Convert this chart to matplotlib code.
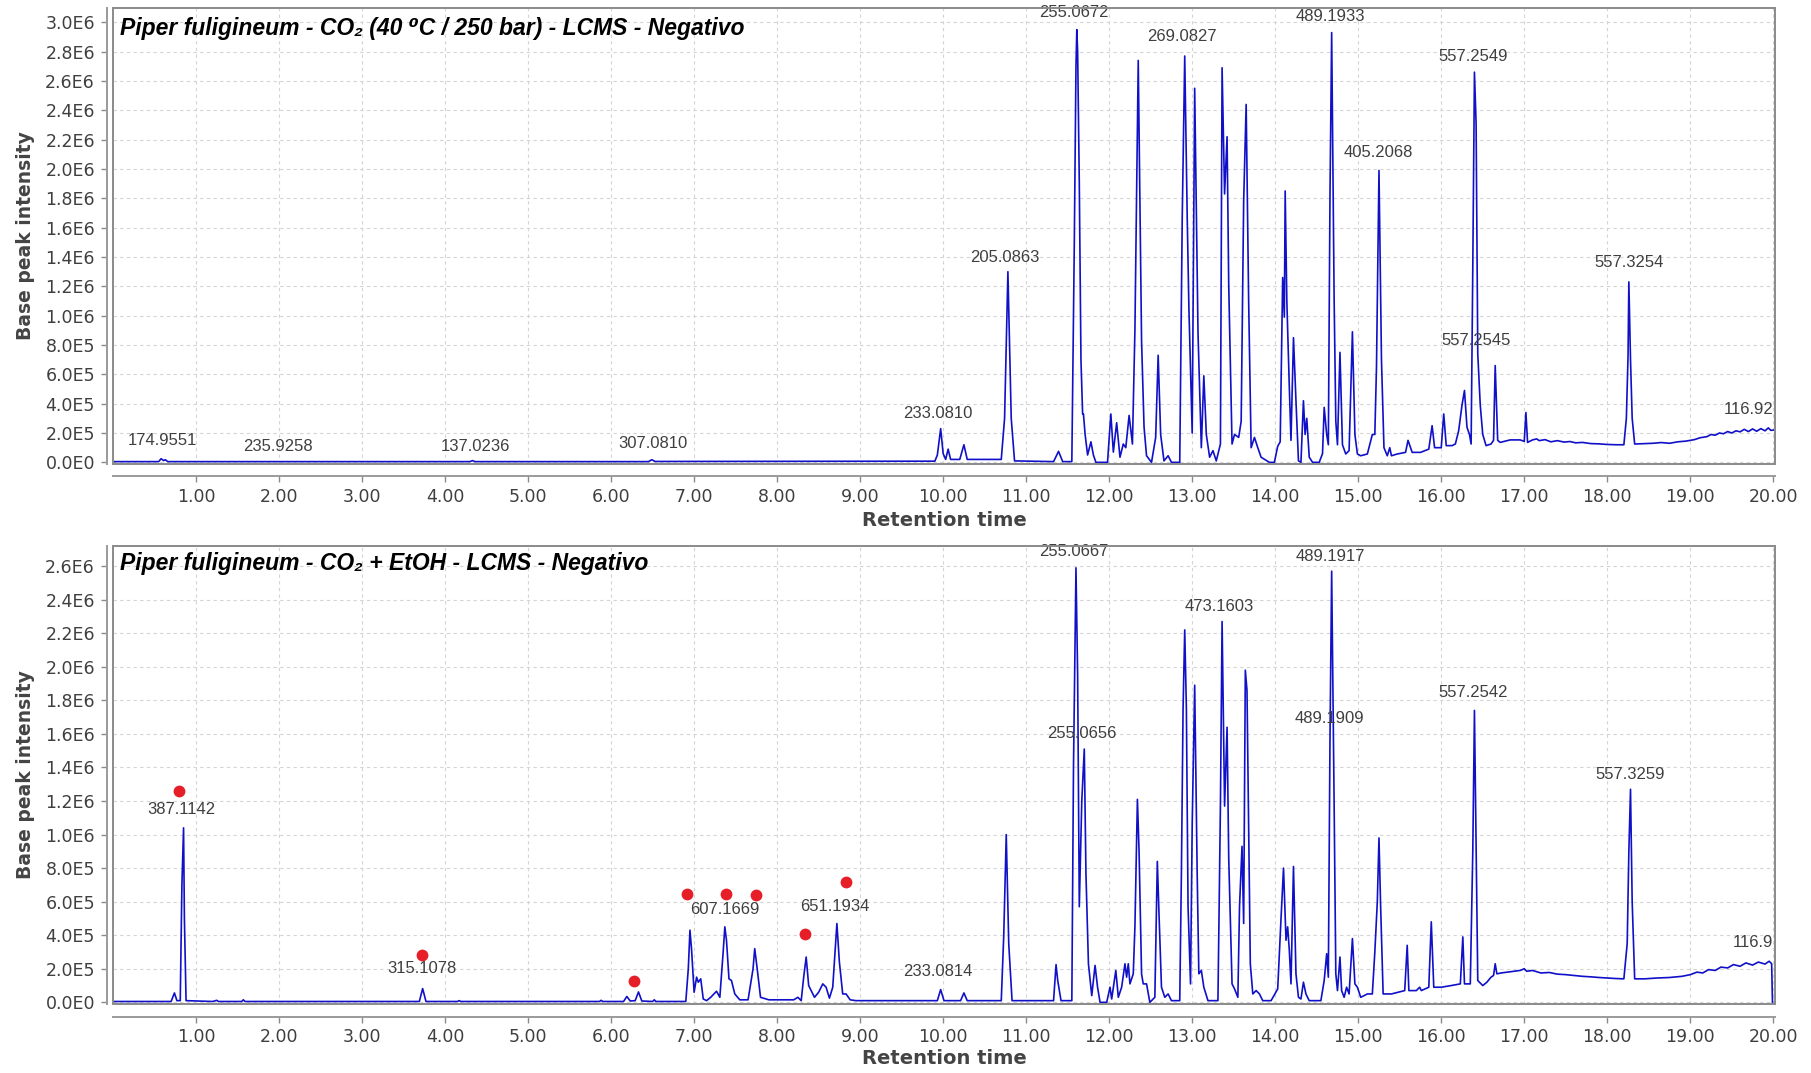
import numpy as np
import matplotlib
matplotlib.use('Agg')
import matplotlib.pyplot as plt
from matplotlib.patches import Rectangle
from matplotlib.ticker import MultipleLocator, FuncFormatter

plt.rcParams['font.family'] = ['DejaVu Sans']

# retention time (min), base peak intensity (x1E6)
trace_co2 = [
    (0.00, 0.005), (0.55, 0.005), (0.58, 0.025), (0.61, 0.012), (0.63, 0.018), (0.66, 0.005),
    (4.30, 0.005), (4.33, 0.012), (4.36, 0.005), (6.45, 0.005), (6.49, 0.018), (6.53, 0.006),
    (9.90, 0.008), (9.93, 0.05), (9.97, 0.23), (10.00, 0.06), (10.03, 0.02), (10.06, 0.09),
    (10.09, 0.02), (10.20, 0.02), (10.25, 0.12), (10.29, 0.02), (10.70, 0.02), (10.74, 0.30),
    (10.78, 1.30), (10.82, 0.30), (10.86, 0.01), (11.33, 0.005), (11.39, 0.075), (11.44, 0.005),
    (11.55, 0.005), (11.58, 1.50), (11.60, 2.70), (11.61, 2.95), (11.62, 2.80), (11.64, 1.90),
    (11.66, 0.70), (11.68, 0.33), (11.69, 0.33), (11.71, 0.19), (11.74, 0.05), (11.78, 0.14),
    (11.81, 0.05), (11.84, 0.0), (11.98, 0.0), (12.02, 0.33), (12.05, 0.07), (12.09, 0.27),
    (12.13, 0.035), (12.17, 0.125), (12.20, 0.10), (12.24, 0.32), (12.28, 0.125), (12.31, 0.90),
    (12.35, 2.74), (12.39, 0.83), (12.42, 0.24), (12.45, 0.045), (12.51, 0.0), (12.56, 0.17),
    (12.59, 0.73), (12.62, 0.19), (12.66, 0.01), (12.71, 0.045), (12.75, 0.0), (12.85, 0.0),
    (12.88, 1.67), (12.91, 2.77), (12.94, 1.67), (12.96, 1.06), (13.00, 0.20), (13.03, 2.55),
    (13.07, 0.88), (13.11, 0.10), (13.14, 0.59), (13.17, 0.19), (13.21, 0.035), (13.25, 0.08),
    (13.29, 0.01), (13.34, 0.125), (13.36, 2.69), (13.39, 1.83), (13.42, 2.22), (13.44, 1.21),
    (13.48, 0.125), (13.51, 0.19), (13.56, 0.17), (13.59, 0.28), (13.62, 1.78), (13.65, 2.44),
    (13.68, 1.10), (13.71, 0.10), (13.75, 0.17), (13.79, 0.10), (13.83, 0.035), (13.93, 0.0),
    (13.99, 0.0), (14.03, 0.11), (14.06, 0.14), (14.09, 1.26), (14.11, 0.99), (14.12, 1.85),
    (14.14, 1.10), (14.17, 0.51), (14.19, 0.15), (14.22, 0.85), (14.25, 0.42), (14.28, 0.01),
    (14.31, 0.0), (14.34, 0.42), (14.36, 0.19), (14.38, 0.30), (14.41, 0.035), (14.45, 0.0),
    (14.53, 0.0), (14.57, 0.06), (14.59, 0.375), (14.62, 0.19), (14.64, 0.12), (14.66, 1.83),
    (14.68, 2.93), (14.71, 1.10), (14.73, 0.28), (14.75, 0.12), (14.78, 0.75), (14.81, 0.12),
    (14.85, 0.057), (14.89, 0.08), (14.93, 0.89), (14.96, 0.19), (14.99, 0.057), (15.03, 0.045),
    (15.11, 0.057), (15.17, 0.19), (15.20, 0.19), (15.22, 0.65), (15.25, 1.99), (15.28, 0.70),
    (15.31, 0.10), (15.35, 0.045), (15.38, 0.10), (15.40, 0.045), (15.47, 0.057), (15.57, 0.068),
    (15.60, 0.15), (15.63, 0.10), (15.65, 0.068), (15.75, 0.068), (15.85, 0.09), (15.89, 0.25),
    (15.92, 0.10), (16.00, 0.10), (16.03, 0.33), (16.06, 0.114), (16.13, 0.114), (16.17, 0.125),
    (16.21, 0.216), (16.25, 0.39), (16.28, 0.49), (16.31, 0.24), (16.34, 0.19), (16.36, 0.125),
    (16.38, 1.33), (16.40, 2.66), (16.42, 2.31), (16.44, 0.74), (16.47, 0.39), (16.50, 0.19),
    (16.54, 0.114), (16.60, 0.125), (16.63, 0.15), (16.65, 0.66), (16.68, 0.15), (16.71, 0.136),
    (16.83, 0.153), (16.95, 0.153), (17.00, 0.143), (17.02, 0.34), (17.04, 0.136), (17.10, 0.153),
    (17.15, 0.16), (17.18, 0.148), (17.25, 0.155), (17.32, 0.14), (17.40, 0.148), (17.48, 0.138),
    (17.55, 0.142), (17.62, 0.133), (17.70, 0.136), (17.80, 0.128), (17.90, 0.126), (18.00, 0.122),
    (18.10, 0.12), (18.20, 0.12), (18.23, 0.30), (18.25, 0.72), (18.26, 1.23), (18.28, 0.70),
    (18.30, 0.30), (18.33, 0.125), (18.45, 0.128), (18.55, 0.13), (18.65, 0.135), (18.75, 0.13),
    (18.85, 0.14), (18.95, 0.145), (19.05, 0.155), (19.12, 0.168), (19.20, 0.175), (19.25, 0.19),
    (19.30, 0.185), (19.35, 0.20), (19.40, 0.195), (19.45, 0.21), (19.50, 0.20), (19.55, 0.215),
    (19.60, 0.208), (19.65, 0.225), (19.70, 0.21), (19.75, 0.228), (19.80, 0.212), (19.85, 0.23),
    (19.90, 0.215), (19.94, 0.235), (19.97, 0.218), (20.00, 0.22),
]

trace_etoh = [
    (0.00, 0.005), (0.70, 0.005), (0.74, 0.056), (0.77, 0.01), (0.81, 0.01), (0.83, 0.70),
    (0.85, 1.04), (0.86, 0.50), (0.88, 0.01), (1.20, 0.005), (1.25, 0.012), (1.27, 0.005),
    (1.55, 0.005), (1.57, 0.015), (1.59, 0.005), (3.69, 0.005), (3.73, 0.082), (3.77, 0.005),
    (4.15, 0.005), (4.17, 0.01), (4.19, 0.005), (5.86, 0.005), (5.88, 0.012), (5.90, 0.005),
    (6.15, 0.005), (6.19, 0.035), (6.23, 0.008), (6.29, 0.01), (6.33, 0.062), (6.37, 0.008),
    (6.50, 0.005), (6.52, 0.015), (6.54, 0.005), (6.90, 0.005), (6.93, 0.20), (6.95, 0.43),
    (6.97, 0.31), (7.00, 0.06), (7.03, 0.15), (7.05, 0.12), (7.08, 0.14), (7.11, 0.02),
    (7.15, 0.01), (7.20, 0.03), (7.27, 0.066), (7.31, 0.03), (7.35, 0.30), (7.37, 0.45),
    (7.39, 0.37), (7.42, 0.14), (7.45, 0.13), (7.49, 0.05), (7.55, 0.015), (7.65, 0.015),
    (7.71, 0.20), (7.73, 0.32), (7.76, 0.20), (7.80, 0.03), (7.90, 0.015), (8.20, 0.015),
    (8.25, 0.03), (8.29, 0.01), (8.32, 0.15), (8.35, 0.27), (8.38, 0.10), (8.41, 0.07),
    (8.45, 0.03), (8.50, 0.06), (8.55, 0.11), (8.59, 0.09), (8.63, 0.025), (8.67, 0.09),
    (8.70, 0.32), (8.72, 0.47), (8.75, 0.24), (8.79, 0.05), (8.83, 0.05), (8.88, 0.015),
    (8.95, 0.01), (9.93, 0.01), (9.97, 0.076), (10.01, 0.01), (10.21, 0.01), (10.25, 0.056),
    (10.29, 0.01), (10.70, 0.01), (10.73, 0.40), (10.76, 1.00), (10.79, 0.35), (10.83, 0.01),
    (11.33, 0.01), (11.36, 0.225), (11.38, 0.13), (11.42, 0.01), (11.55, 0.01), (11.57, 1.40),
    (11.60, 2.59), (11.62, 1.95), (11.64, 0.57), (11.67, 1.20), (11.70, 1.51), (11.72, 0.77),
    (11.75, 0.23), (11.79, 0.04), (11.83, 0.22), (11.86, 0.09), (11.89, 0.0), (11.97, 0.0),
    (12.01, 0.09), (12.03, 0.02), (12.08, 0.19), (12.11, 0.03), (12.15, 0.09), (12.19, 0.23),
    (12.21, 0.15), (12.23, 0.23), (12.25, 0.11), (12.29, 0.17), (12.31, 0.45), (12.34, 1.21),
    (12.36, 0.90), (12.39, 0.17), (12.41, 0.11), (12.45, 0.11), (12.49, 0.0), (12.55, 0.03),
    (12.58, 0.84), (12.60, 0.53), (12.63, 0.09), (12.67, 0.03), (12.71, 0.05), (12.75, 0.01),
    (12.85, 0.01), (12.87, 0.77), (12.89, 1.75), (12.91, 2.22), (12.93, 1.75), (12.95, 0.57),
    (12.98, 0.11), (13.00, 1.06), (13.03, 1.89), (13.06, 0.77), (13.08, 0.17), (13.11, 0.19),
    (13.14, 0.09), (13.19, 0.01), (13.31, 0.01), (13.34, 1.17), (13.36, 2.27), (13.39, 1.17),
    (13.42, 1.64), (13.44, 0.86), (13.48, 0.11), (13.51, 0.08), (13.55, 0.03), (13.57, 0.57),
    (13.60, 0.93), (13.62, 0.47), (13.64, 1.98), (13.66, 1.86), (13.68, 1.06), (13.70, 0.23),
    (13.73, 0.05), (13.77, 0.07), (13.81, 0.05), (13.85, 0.01), (13.95, 0.01), (14.03, 0.08),
    (14.07, 0.50), (14.10, 0.80), (14.13, 0.37), (14.15, 0.45), (14.17, 0.31), (14.19, 0.11),
    (14.22, 0.81), (14.25, 0.17), (14.28, 0.03), (14.31, 0.02), (14.34, 0.12), (14.37, 0.05),
    (14.41, 0.01), (14.55, 0.01), (14.59, 0.13), (14.62, 0.29), (14.64, 0.15), (14.66, 1.58),
    (14.68, 2.57), (14.71, 1.17), (14.73, 0.17), (14.75, 0.07), (14.78, 0.27), (14.80, 0.07),
    (14.83, 0.03), (14.86, 0.09), (14.89, 0.05), (14.93, 0.38), (14.96, 0.11), (14.99, 0.09),
    (15.03, 0.03), (15.11, 0.05), (15.17, 0.05), (15.20, 0.30), (15.23, 0.60), (15.25, 0.98),
    (15.27, 0.57), (15.30, 0.05), (15.40, 0.05), (15.56, 0.07), (15.59, 0.34), (15.61, 0.07),
    (15.70, 0.07), (15.74, 0.09), (15.76, 0.07), (15.85, 0.09), (15.88, 0.48), (15.91, 0.09),
    (16.00, 0.09), (16.12, 0.10), (16.23, 0.11), (16.26, 0.39), (16.28, 0.11), (16.35, 0.11),
    (16.38, 0.90), (16.40, 1.74), (16.42, 0.96), (16.44, 0.13), (16.50, 0.10), (16.55, 0.12),
    (16.60, 0.15), (16.63, 0.16), (16.65, 0.23), (16.67, 0.17), (16.72, 0.175), (16.80, 0.18),
    (16.88, 0.185), (16.95, 0.19), (17.00, 0.20), (17.03, 0.185), (17.10, 0.19), (17.20, 0.175),
    (17.30, 0.178), (17.40, 0.168), (17.50, 0.165), (17.60, 0.16), (17.70, 0.155), (17.80, 0.152),
    (17.90, 0.148), (18.00, 0.145), (18.10, 0.142), (18.20, 0.14), (18.24, 0.35), (18.26, 0.90),
    (18.28, 1.27), (18.30, 0.60), (18.33, 0.14), (18.45, 0.14), (18.60, 0.145), (18.75, 0.148),
    (18.90, 0.155), (19.00, 0.165), (19.08, 0.18), (19.15, 0.175), (19.22, 0.195), (19.30, 0.19),
    (19.37, 0.21), (19.45, 0.205), (19.52, 0.225), (19.60, 0.215), (19.67, 0.235), (19.75, 0.222),
    (19.82, 0.24), (19.90, 0.228), (19.95, 0.245), (19.98, 0.23), (19.99, 0.0),
]

# peak labels (m/z) and where they sit
mz_co2 = ['174.9551', '235.9258', '137.0236', '307.0810', '233.0810', '205.0863', '255.0672',
          '269.0827', '489.1933', '557.2549', '405.2068', '557.2545', '557.3254']
mz_co2_rt = [0.60, 1.99, 4.36, 6.50, 9.94, 10.74, 11.57, 12.88, 14.66, 16.39, 15.24, 16.42, 18.26]
mz_co2_int = [0.149, 0.11, 0.11, 0.126, 0.33, 1.40, 3.07, 2.90, 3.04, 2.77, 2.11, 0.83, 1.36]

mz_etoh = ['387.1142', '315.1078', '607.1669', '651.1934', '233.0814', '255.0667', '255.0656',
           '473.1603', '489.1917', '489.1909', '557.2542', '557.3259']
mz_etoh_rt = [0.82, 3.72, 7.37, 8.69, 9.94, 11.57, 11.67, 13.33, 14.66, 14.65, 16.39, 18.27]
mz_etoh_int = [1.15, 0.20, 0.556, 0.57, 0.185, 2.69, 1.60, 2.36, 2.66, 1.69, 1.845, 1.36]

# cut-off labels at the right edge (left edge of text)
edge_label_co2 = ('116.92', 19.40, 0.36)
edge_label_etoh = ('116.9', 19.51, 0.357)

# red markers on the EtOH chromatogram
dot_rt = [0.80, 3.72, 6.27, 6.91, 7.38, 7.74, 8.34, 8.83]
dot_int = [1.26, 0.28, 0.13, 0.645, 0.645, 0.638, 0.405, 0.72]

title_co2 = 'Piper fuligineum - CO\u2082 (40 \u2070C / 250 bar) - LCMS - Negativo'
title_etoh = 'Piper fuligineum - CO\u2082 + EtOH - LCMS - Negativo'

LINE = '#1010c8'
GRAY = '#8a8a8a'
TXT = '#3f3f3f'


def sci_fmt(v, pos):
    v = round(v, -3)
    if v == 0:
        return '0.0E0'
    e = int(np.floor(np.log10(abs(v)) + 1e-9))
    return f'{v / 10 ** e:.1f}E{e}'


def panel(ax, trace, ymin, ymax, title, title_y, mz, mz_rt, mz_int, edge):
    t = np.array([p[0] for p in trace])
    y = np.array([p[1] for p in trace]) * 1e6
    ax.plot(t, y, color=LINE, lw=1.2, zorder=3)
    ax.set_xlim(0, 20.02)
    ax.set_ylim(ymin * 1e6, ymax * 1e6)

    ax.set_xticks(np.arange(1, 21))
    ax.set_xticklabels([f'{v:.2f}' for v in range(1, 21)])
    ax.yaxis.set_major_locator(MultipleLocator(2e5))
    ax.yaxis.set_major_formatter(FuncFormatter(sci_fmt))
    ax.tick_params(axis='both', direction='out', length=4, width=1, color=GRAY,
                   labelcolor=TXT, labelsize=12.5)
    ax.tick_params(axis='x', pad=4)
    ax.tick_params(axis='y', pad=5)
    ax.grid(True, color='#d4d4d4', lw=0.8, ls=(0, (3, 3)))
    ax.set_axisbelow(True)

    for s in ['top', 'right']:
        ax.spines[s].set_visible(False)
    ax.spines['bottom'].set_position(('outward', 9))
    ax.spines['left'].set_position(('outward', 4))
    for s in ['bottom', 'left']:
        ax.spines[s].set_color('#9a9a9a')
        ax.spines[s].set_linewidth(1.4)
    ax.add_patch(Rectangle((0, 0), 1, 1, transform=ax.transAxes, fill=False,
                           ec=GRAY, lw=1.4, clip_on=False, zorder=5))

    ax.set_ylabel('Base peak intensity', fontsize=13.5, fontweight='bold', color='#444444')
    ax.yaxis.set_label_coords(-0.047, 0.5)
    ax.set_xlabel('Retention time', fontsize=14, fontweight='bold', color='#444444')

    ax.text(0.004, title_y, title, transform=ax.transAxes, fontsize=16.5, fontweight='bold',
            fontstyle='italic', family=['Liberation Sans', 'DejaVu Sans'], va='center',
            ha='left', color='black', zorder=6)

    for lab, x, v in zip(mz, mz_rt, mz_int):
        ax.text(x, v * 1e6, lab, ha='center', va='center', fontsize=12, color=TXT,
                family=['Liberation Sans', 'DejaVu Sans'], zorder=4)
    ax.text(edge[1], edge[2] * 1e6, edge[0], ha='left', va='center', fontsize=12,
            color=TXT, family=['Liberation Sans', 'DejaVu Sans'], clip_on=True, zorder=4)


fig = plt.figure(figsize=(18.11, 10.73), dpi=100)
ax1 = fig.add_axes([0.0624, 0.5676, 0.9177, 0.425])
ax2 = fig.add_axes([0.0624, 0.0643, 0.9177, 0.4268])

panel(ax1, trace_co2, -0.011, 3.098, title_co2, 0.954, mz_co2, mz_co2_rt, mz_co2_int,
      edge_label_co2)
ax1.xaxis.set_label_coords(0.5, -0.103)
panel(ax2, trace_etoh, -0.01, 2.72, title_etoh, 0.962, mz_etoh, mz_etoh_rt, mz_etoh_int,
      edge_label_etoh)
ax2.xaxis.set_label_coords(0.5, -0.098)

ax2.plot(dot_rt, np.array(dot_int) * 1e6, 'o', color='#e61e28', ms=8.5, mec='none', zorder=6)

fig.savefig('out.png', dpi=100)
